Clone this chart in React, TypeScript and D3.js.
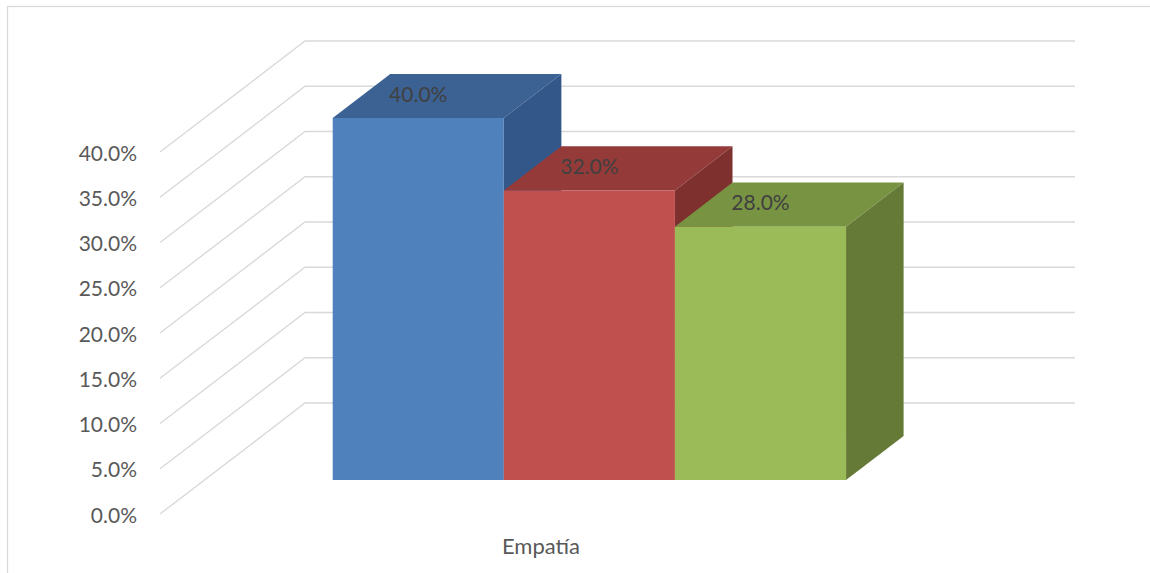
import React from "react";
import * as d3 from "d3";

const categories = ["Empatía"];
const seriesNames = ["Serie 1", "Serie 2", "Serie 3"];
const seriesValues = [40.0, 32.0, 28.0];
const yTicks = [0, 5, 10, 15, 20, 25, 30, 35, 40];

const faceColors = [
  { front: "#4F81BD", top: "#3C6294", side: "#34578A" },
  { front: "#C0504D", top: "#943B3A", side: "#7E302E" },
  { front: "#9BBB59", top: "#789443", side: "#667A37" },
];

const W = 1150;
const H = 573;
const DX = 145;
const DY = -111;
const Z0 = 0.306;
const Z1 = 0.703;
const FONT = "Lato, 'Open Sans', sans-serif";

export default function App() {
  const y = d3.scaleLinear().domain([0, 40]).range([514, 152]);
  const xCat = d3.scaleBand<string>().domain(categories).range([160, 930]);
  const bw = xCat.bandwidth();
  const pad = (bw * 0.75) / 4.5;
  const xSer = d3
    .scaleBand<string>()
    .domain(seriesNames)
    .range([(xCat(categories[0]) as number) + pad, (xCat(categories[0]) as number) + bw - pad]);
  const sw = xSer.bandwidth();

  const P = (x: number, yy: number, z: number): [number, number] => [x + z * DX, yy + z * DY];
  const poly = (pts: [number, number][]) => pts.map((p) => p.join(",")).join(" ");

  const x0 = 160;
  const x1 = 930;

  return (
    <svg width={W} height={H} style={{ position: "absolute", left: 0, top: 0, background: "#fff" }}>
      <rect x={7.5} y={6.5} width={W + 20} height={H + 20} fill="#fff" stroke="#d9d9d9" strokeWidth={1.3} />
      {yTicks.map((t) => {
        const a = P(x0, y(t), 0);
        const b = P(x0, y(t), 1);
        const c = P(x1, y(t), 1);
        return <polyline key={t} points={poly([a, b, c])} fill="none" stroke="#d9d9d9" strokeWidth={1.4} />;
      })}
      {yTicks.map((t) => (
        <text
          key={"l" + t}
          x={137}
          y={y(t)}
          textAnchor="end"
          dominantBaseline="central"
          fontFamily={FONT}
          fontSize={21}
          fill="#595959"
        >
          {t.toFixed(1) + "%"}
        </text>
      ))}
      {seriesNames.map((s, i) => {
        const v = seriesValues[i];
        const xl = xSer(s) as number;
        const xr = xl + sw;
        const yt = y(v);
        const yb = y(0);
        const c = faceColors[i];
        const top = [P(xl, yt, Z0), P(xr, yt, Z0), P(xr, yt, Z1), P(xl, yt, Z1)];
        const side = [P(xr, yt, Z0), P(xr, yt, Z1), P(xr, yb, Z1), P(xr, yb, Z0)];
        const front = [P(xl, yt, Z0), P(xr, yt, Z0), P(xr, yb, Z0), P(xl, yb, Z0)];
        const fc = P((xl + xr) / 2, yt, Z0);
        return (
          <g key={s}>
            <polygon points={poly(top)} fill={c.top} />
            <polygon points={poly(side)} fill={c.side} />
            <polygon points={poly(front)} fill={c.front} />
            <text
              x={fc[0]}
              y={fc[1] - 25}
              textAnchor="middle"
              dominantBaseline="central"
              fontFamily={FONT}
              fontSize={21}
              fill="#404040"
            >
              {v.toFixed(1) + "%"}
            </text>
          </g>
        );
      })}
      {categories.map((cname) => (
        <text
          key={cname}
          x={(xCat(cname) as number) + bw / 2 - 4}
          y={545}
          textAnchor="middle"
          dominantBaseline="central"
          fontFamily={FONT}
          fontSize={22}
          fill="#595959"
        >
          {cname}
        </text>
      ))}
    </svg>
  );
}
